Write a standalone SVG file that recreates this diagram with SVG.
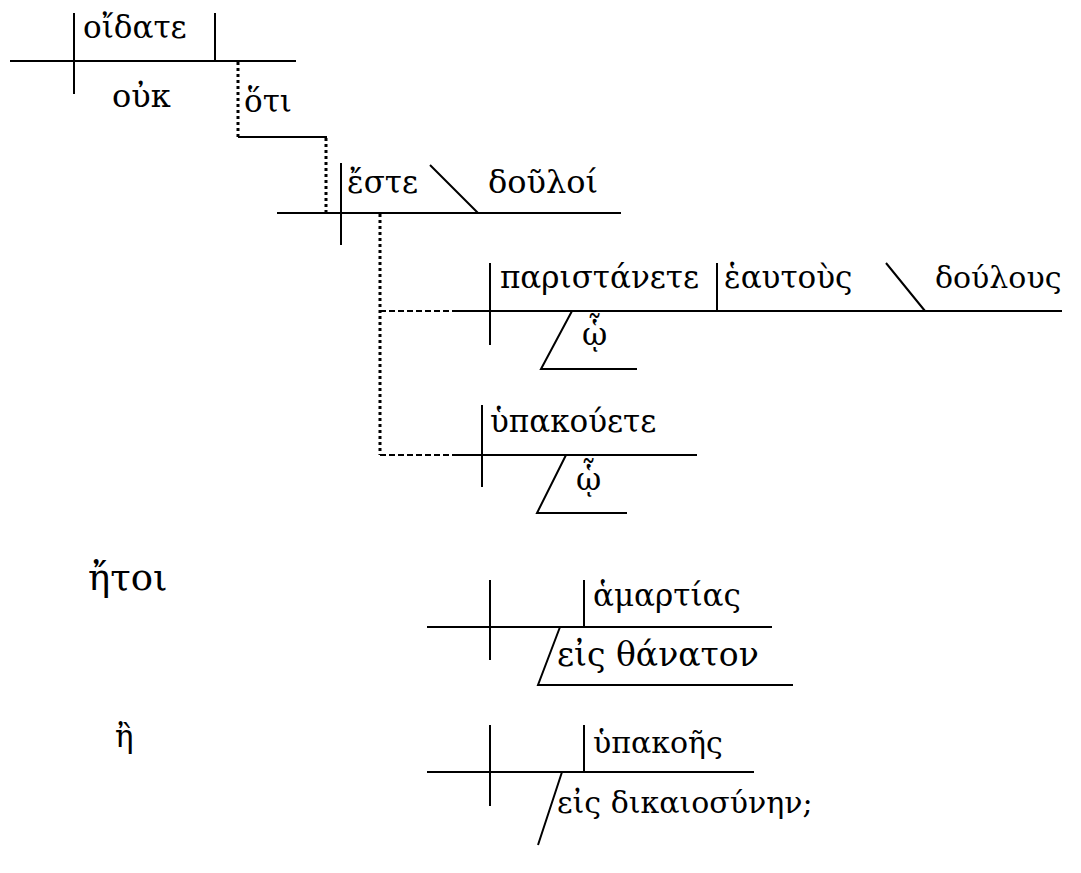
<svg xmlns="http://www.w3.org/2000/svg" width="1081" height="873" viewBox="0 0 1081 873">
<style>
.l{stroke:#000;stroke-width:2;fill:none}
.dot{stroke:#000;stroke-width:3;stroke-dasharray:3,3;fill:none}
.dash{stroke:#000;stroke-width:2;stroke-dasharray:6,3;fill:none}
text{fill:#000;font-family:"DejaVu Serif","Noto Sans",serif;font-size:31px}
</style>
<rect width="1081" height="873" fill="#fff"/>
<g id="connectors">
<path class="dot" d="M238,62 V137"/>
<path class="l" d="M238,137 H327"/>
<path class="dot" d="M326,138 V212"/>
<path class="dot" d="M380,214 V455"/>
<path class="dash" d="M380,311 H452"/>
<path class="dash" d="M380,455 H452"/>
</g>
<g id="oidate">
<path class="l" d="M10,61 H296 M74,13 V94 M215,13 V61"/>
<text x="83" y="38">οἴδατε</text>
<text x="112" y="107" style="font-size:32px">οὐκ</text>
</g>
<g id="hoti"><text x="244" y="112">ὅτι</text></g>
<g id="este">
<path class="l" d="M277,213 H621 M341,163 V245 M430,165 L478,213"/>
<text x="347" y="193">ἔστε</text>
<text x="488" y="193" style="font-size:32px">δοῦλοί</text>
</g>
<g id="paristanete">
<path class="l" d="M452,311 H1062 M490,263 V345 M717,263 V311 M886,263 L925,311 M572,311 L541,369 H637"/>
<text x="500" y="288">παριστάνετε</text>
<text x="724" y="288">ἑαυτοὺς</text>
<text x="935" y="288" style="font-size:30px">δούλους</text>
<text x="582" y="345">ᾧ</text>
</g>
<g id="hypakouete">
<path class="l" d="M452,455 H697 M482,405 V487 M566,455 L537,513 H627"/>
<text x="490" y="432">ὑπακούετε</text>
<text x="576" y="490">ᾧ</text>
</g>
<g id="etoi"><text x="88" y="590" style="font-size:37px">ἤτοι</text></g>
<g id="hamartias">
<path class="l" d="M427,627 H772 M490,580 V660 M584,580 V627 M560,627 L538,685 H793"/>
<text x="593" y="606">ἁμαρτίας</text>
<text x="557" y="666" style="font-size:33px">εἰς θάνατον</text>
</g>
<g id="e"><text x="115" y="747">ἢ</text></g>
<g id="hypakoes">
<path class="l" d="M427,772 H754 M490,725 V806 M584,725 V772 M562,772 L538,845"/>
<text x="593" y="753" style="font-size:30px">ὑπακοῆς</text>
<text x="557" y="813" style="font-size:30px">εἰς δικαιοσύνην;</text>
</g>
</svg>
